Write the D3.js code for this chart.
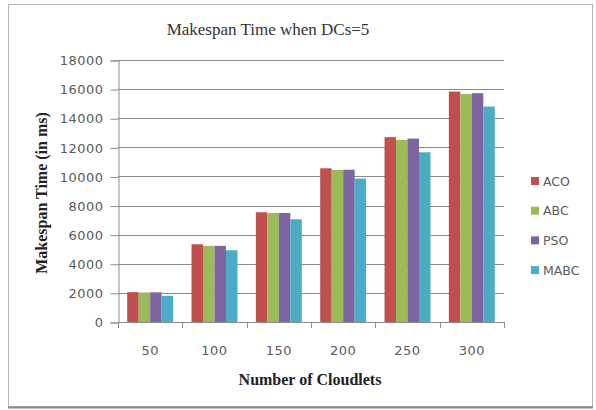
<!DOCTYPE html>
<html>
<head>
<meta charset="utf-8">
<script src="https://cdn.jsdelivr.net/npm/d3@7"></script>
<style>
  html, body { margin: 0; padding: 0; background: #fff; }
  svg { display: block; }
</style>
</head>
<body>
<svg id="chart" width="596" height="410"></svg>
<script>
// Makespan time (ms) per algorithm for each cloudlet count
const categories = ["50", "100", "150", "200", "250", "300"];
const seriesNames = ["ACO", "ABC", "PSO", "MABC"];
const aco  = [2050, 5340, 7540, 10560, 12700, 15830];
const abc  = [2030, 5230, 7490, 10450, 12510, 15670];
const pso  = [2040, 5230, 7490, 10460, 12600, 15720];
const mabc = [1800, 4930, 7060, 9850, 11660, 14800];
const yTicks = [0, 2000, 4000, 6000, 8000, 10000, 12000, 14000, 16000, 18000];
const colors = ["#C0504D", "#9BBB59", "#8064A2", "#4BACC6"];

const seriesValues = [aco, abc, pso, mabc];

const svg = d3.select("#chart");
const plot = { left: 118, right: 504, top: 60, bottom: 322 };
const sans = "'DejaVu Sans', 'Open Sans', sans-serif";
const serif = "'Liberation Serif', 'DejaVu Serif', serif";

// chart frame
svg.append("rect")
  .attr("x", 8.5).attr("y", 4.5)
  .attr("width", 584).attr("height", 402)
  .attr("fill", "#fff")
  .attr("stroke", "#b5b5b5").attr("stroke-width", 1);
svg.append("line")
  .attr("x1", 8).attr("x2", 593).attr("y1", 407.5).attr("y2", 407.5)
  .attr("stroke", "#8a8a8a").attr("stroke-width", 2);

const x0 = d3.scaleBand().domain(categories).range([plot.left, plot.right]).padding(0);
const x1 = d3.scaleBand().domain(seriesNames).range([0, x0.bandwidth()])
  .paddingInner(0).paddingOuter(0.8);
const y = d3.scaleLinear().domain([0, 18000]).range([plot.bottom, plot.top]);

// horizontal gridlines
svg.append("g")
  .selectAll("line")
  .data(yTicks.filter(d => d > 0))
  .join("line")
  .attr("x1", plot.left).attr("x2", plot.right)
  .attr("y1", d => Math.round(y(d)) + 0.5).attr("y2", d => Math.round(y(d)) + 0.5)
  .attr("stroke", "#8c8c8c").attr("stroke-width", 1);

// y axis
const yAxis = d3.axisLeft(y).tickValues(yTicks).tickSize(8).tickPadding(7)
  .tickFormat(d3.format("d"));
const gy = svg.append("g")
  .attr("transform", `translate(${plot.left + 0.5},0.5)`)
  .call(yAxis);
gy.select(".domain").attr("stroke", "#8c8c8c");
gy.selectAll(".tick line").attr("stroke", "#8c8c8c");
gy.selectAll(".tick text")
  .attr("font-family", sans)
  .attr("font-size", 13).attr("letter-spacing", 0.5).attr("fill", "#5a5a5a");

// bars
const groups = svg.append("g")
  .selectAll("g")
  .data(categories)
  .join("g")
  .attr("transform", d => `translate(${x0(d)},0)`);

groups.selectAll("rect")
  .data((c, i) => seriesNames.map((s, k) => ({ s, k, v: seriesValues[k][i] })))
  .join("rect")
  .attr("x", d => x1(d.s))
  .attr("width", x1.bandwidth())
  .attr("y", d => y(d.v))
  .attr("height", d => plot.bottom - y(d.v))
  .attr("fill", d => colors[d.k]);

// x axis line and boundary ticks
svg.append("line")
  .attr("x1", plot.left).attr("x2", plot.right)
  .attr("y1", plot.bottom + 0.5).attr("y2", plot.bottom + 0.5)
  .attr("stroke", "#8c8c8c");
const bounds = categories.map(c => x0(c)).concat([x0(categories[categories.length - 1]) + x0.bandwidth()]);
svg.append("g")
  .selectAll("line")
  .data(bounds)
  .join("line")
  .attr("x1", d => Math.round(d) + 0.5).attr("x2", d => Math.round(d) + 0.5)
  .attr("y1", plot.bottom).attr("y2", plot.bottom + 6)
  .attr("stroke", "#8c8c8c");

// category labels
svg.append("g")
  .selectAll("text")
  .data(categories)
  .join("text")
  .attr("x", d => x0(d) + x0.bandwidth() / 2)
  .attr("y", 355)
  .attr("text-anchor", "middle")
  .attr("font-family", sans)
  .attr("font-size", 13).attr("letter-spacing", 0.5).attr("fill", "#5a5a5a")
  .text(d => d);

// titles
svg.append("text")
  .attr("x", 268).attr("y", 35)
  .attr("text-anchor", "middle")
  .attr("font-family", serif)
  .attr("font-size", 17).attr("fill", "#333")
  .text("Makespan Time  when DCs=5");

svg.append("text")
  .attr("x", 310).attr("y", 385)
  .attr("text-anchor", "middle")
  .attr("font-family", serif)
  .attr("font-weight", "bold")
  .attr("font-size", 16).attr("fill", "#222")
  .text("Number of Cloudlets");

svg.append("text")
  .attr("transform", "translate(47,193) rotate(-90)")
  .attr("text-anchor", "middle")
  .attr("font-family", serif)
  .attr("font-weight", "bold")
  .attr("font-size", 16).attr("fill", "#222")
  .text("Makespan Time (in ms)");

// legend
const legend = svg.append("g")
  .selectAll("g")
  .data(seriesNames)
  .join("g")
  .attr("transform", (d, i) => `translate(531,${181 + i * 29.7})`);
legend.append("rect")
  .attr("x", 0).attr("y", -4)
  .attr("width", 8).attr("height", 8)
  .attr("fill", (d, i) => colors[i]);
legend.append("text")
  .attr("x", 12).attr("y", 4.5)
  .attr("font-family", sans)
  .attr("font-size", 12.5).attr("fill", "#5a5a5a")
  .text(d => d);
</script>
</body>
</html>
